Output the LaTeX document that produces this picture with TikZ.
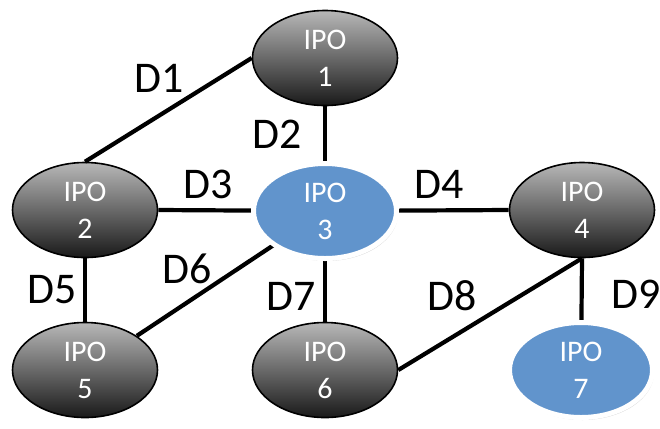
\documentclass[tikz,border=0pt]{standalone}
\usepackage{fontspec}
\setmainfont{Carlito}
\usetikzlibrary{shapes.geometric,shadows}
\definecolor{ipoblue}{RGB}{97,148,204}
\tikzset{
  ipodark/.style={ellipse, draw=black, line width=1.6bp, minimum width=145bp, minimum height=95bp,
    top color=black!28, bottom color=black!90, shading angle=0,
    text=white, align=center, inner sep=0pt, font=\fontsize{30}{37}\selectfont},
  ipoblue/.style={ellipse, draw=white, line width=5bp, minimum width=143bp, minimum height=95bp,
    fill=ipoblue, drop shadow={opacity=0.3, shadow xshift=1.5bp, shadow yshift=-2.5bp},
    text=white, align=center, inner sep=0pt, font=\fontsize{30}{37}\selectfont},
  link/.style={line width=4.2bp, black},
  dlabel/.style={anchor=base, inner sep=0pt, font=\fontsize{44}{44}\selectfont}
}
\begin{document}
\begin{tikzpicture}[x=1bp,y=-1bp]
\useasboundingbox (0,0) rectangle (660,428);
\coordinate (c1) at (325,58);
\coordinate (c2) at (85,210);
\coordinate (c3) at (325,211);
\coordinate (c4) at (582,210);
\coordinate (c5) at (85,370);
\coordinate (c6) at (325,370);
\coordinate (c7) at (581,370);
\node[ipodark] (ipo1) at (c1) {IPO\\1};
\node[ipodark] (ipo2) at (c2) {IPO\\2};
\node[ipodark] (ipo4) at (c4) {IPO\\4};
\node[ipodark] (ipo5) at (c5) {IPO\\5};
\node[ipodark] (ipo6) at (c6) {IPO\\6};
\draw[link] (ipo2.north) -- (ipo1.west);
\draw[link] (ipo1.south) -- (c3);
\draw[link] (ipo2.east) -- (c3);
\draw[link] (c3) -- (ipo4.west);
\draw[link] (ipo2.south) -- (ipo5.north);
\draw[link] (c3) -- (ipo5.north east);
\draw[link] (c3) -- (ipo6.north);
\draw[link] (ipo4.south) -- (ipo6.east);
\draw[link] (ipo4.south) -- (c7);
\node[ipoblue] (ipo3) at (c3) {IPO\\3};
\node[ipoblue] (ipo7) at (c7) {IPO\\7};
\node[dlabel] (d1) at (159,92) {D1};
\node[dlabel] (d2) at (277,148) {D2};
\node[dlabel] (d3) at (208,198) {D3};
\node[dlabel] (d4) at (439,198) {D4};
\node[dlabel] (d5) at (52,303) {D5};
\node[dlabel] (d6) at (187,283) {D6};
\node[dlabel] (d7) at (291,310) {D7};
\node[dlabel] (d8) at (452,310) {D8};
\node[dlabel] (d9) at (636,308) {D9};
\end{tikzpicture}
\end{document}
